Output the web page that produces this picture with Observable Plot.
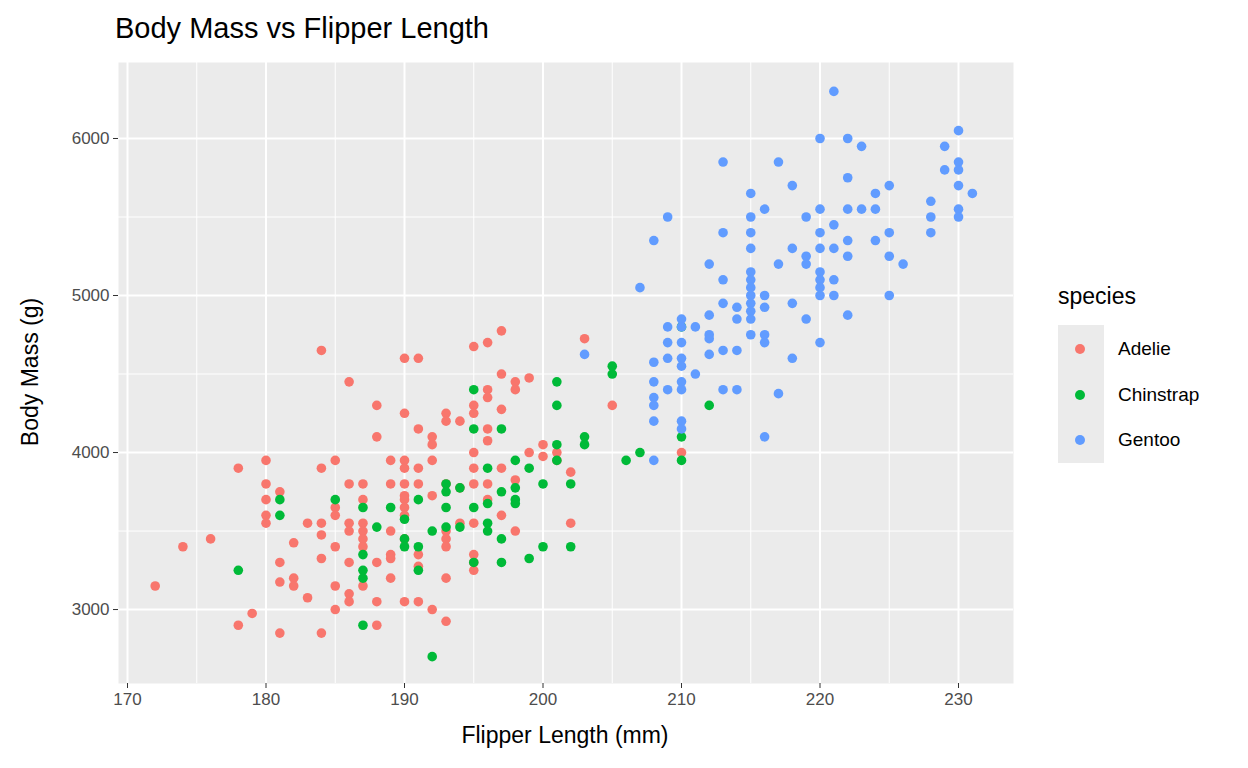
<!DOCTYPE html>
<html><head><meta charset="utf-8">
<script src="https://cdn.jsdelivr.net/npm/d3@7"></script>
<script src="https://cdn.jsdelivr.net/npm/@observablehq/plot@0.6"></script>
<style>
body{margin:0;background:#fff;font-family:"Liberation Sans",Arial,sans-serif;}
#wrap{position:relative;width:1248px;height:768px;}
#chart{position:absolute;left:0;top:0;}
.t{position:absolute;white-space:nowrap;color:#000;}
</style></head><body>
<div id="wrap">
<div id="chart"></div>
<div class="t" style="left:115px;top:12px;font-size:29px;">Body Mass vs Flipper Length</div>
<div class="t" style="left:565px;top:722px;font-size:23px;transform:translateX(-50%)">Flipper Length (mm)</div>
<div class="t" style="left:30px;top:372px;font-size:23px;transform:translate(-50%,-50%) rotate(-90deg)">Body Mass (g)</div>
<div id="legend"></div>
</div>
<script>
const species = ["Adelie", "Chinstrap", "Gentoo"];
const colors = ["#F8766D", "#00BA38", "#619CFF"];
const xTicks = [170, 180, 190, 200, 210, 220, 230];
const yTicks = [3000, 4000, 5000, 6000];

const adelie = [[172,3150],[174,3400],[176,3450],[178,3900],[178,2900],[179,2975],[180,3950],[180,3800],[180,3700],[180,3600],[180,3550],[181,3750],[181,3300],[181,3175],[181,2850],[182,3200],[182,3150],[182,3425],[183,3550],[183,3075],[184,4650],[184,3900],[184,3550],[184,3475],[184,3325],[184,2850],[185,3950],[185,3650],[185,3600],[185,3400],[185,3150],[185,3000],[186,4450],[186,3800],[186,3550],[186,3500],[186,3300],[186,3100],[186,3050],[187,3800],[187,3700],[187,3550],[187,3500],[187,3450],[187,3400],[187,3150],[188,4300],[188,4100],[188,3300],[188,3050],[188,2900],[189,3950],[189,3800],[189,3500],[189,3350],[189,3325],[189,3200],[190,4600],[190,4250],[190,3950],[190,3900],[190,3800],[190,3725],[190,3700],[190,3650],[190,3600],[190,3450],[190,3050],[191,4600],[191,4150],[191,3900],[191,3800],[191,3350],[191,3275],[191,3050],[192,4100],[192,4050],[192,3950],[192,3725],[192,3000],[193,4250],[193,4200],[193,3800],[193,3500],[193,3450],[193,3400],[193,3200],[193,2925],[194,4200],[194,3775],[194,3550],[195,4675],[195,4300],[195,4250],[195,4000],[195,3900],[195,3800],[195,3550],[195,3350],[195,3300],[195,3250],[196,4700],[196,4400],[196,4350],[196,4150],[196,4075],[196,3800],[196,3700],[197,4775],[197,4500],[197,4275],[197,3900],[197,3600],[198,4450],[198,4400],[198,3825],[198,3500],[199,4475],[199,4000],[200,4050],[200,3975],[201,4000],[201,3950],[202,3875],[202,3550],[203,4725],[205,4300],[210,4000]];
const chinstrap = [[178,3250],[181,3700],[181,3600],[185,3700],[187,3650],[187,3350],[187,3250],[187,3200],[187,2900],[188,3525],[189,3650],[190,3575],[190,3450],[190,3400],[191,3700],[191,3400],[191,3250],[192,3500],[192,2700],[193,3800],[193,3750],[193,3650],[193,3525],[194,3775],[194,3525],[195,4400],[195,4150],[195,3650],[195,3300],[196,3900],[196,3675],[196,3550],[196,3500],[197,4150],[197,3750],[197,3450],[197,3300],[198,3950],[198,3775],[198,3700],[198,3675],[199,3900],[199,3325],[200,3800],[200,3400],[201,4450],[201,4300],[201,4050],[201,3950],[202,3800],[202,3400],[203,4100],[203,4050],[205,4550],[205,4500],[206,3950],[207,4000],[210,4800],[210,4100],[210,3950],[212,4300]];
const gentoo = [[203,4625],[207,5050],[208,5350],[208,4575],[208,4450],[208,4350],[208,4300],[208,4200],[208,3950],[209,5500],[209,4800],[209,4700],[209,4600],[209,4400],[210,4850],[210,4800],[210,4700],[210,4600],[210,4550],[210,4450],[210,4400],[210,4200],[210,4150],[211,4500],[211,4800],[212,5200],[212,4875],[212,4750],[212,4725],[212,4625],[213,5850],[213,5400],[213,5100],[213,4950],[213,4650],[213,4400],[214,4925],[214,4850],[214,4650],[214,4400],[215,5650],[215,5500],[215,5400],[215,5300],[215,5150],[215,5100],[215,5050],[215,5000],[215,4950],[215,4900],[215,4850],[215,4750],[216,5550],[216,5000],[216,4925],[216,4750],[216,4700],[216,4100],[217,5850],[217,5200],[217,4375],[218,5700],[218,5300],[218,4950],[218,4600],[219,5500],[219,5250],[219,5200],[219,4850],[220,6000],[220,5550],[220,5400],[220,5300],[220,5150],[220,5100],[220,5050],[220,5000],[220,4700],[221,6300],[221,5450],[221,5300],[221,5100],[221,5000],[222,6000],[222,5750],[222,5550],[222,5350],[222,5250],[222,4875],[223,5950],[223,5550],[224,5650],[224,5550],[224,5350],[225,5700],[225,5400],[225,5250],[225,5000],[226,5200],[228,5600],[228,5500],[228,5400],[229,5950],[229,5800],[230,6050],[230,5850],[230,5800],[230,5700],[230,5550],[230,5500],[231,5650]];

const data = [];
[adelie, chinstrap, gentoo].forEach((arr, i) =>
  arr.forEach(([f, m]) => data.push({species: species[i], flipper: f, mass: m})));

const xMinor = [175, 185, 195, 205, 215, 225];
const yMinor = [2500, 3500, 4500, 5500];

const chart = Plot.plot({
  width: 1248, height: 768,
  marginLeft: 118, marginRight: 235, marginTop: 62, marginBottom: 85,
  style: {fontFamily: "Liberation Sans, Arial, sans-serif", fontSize: "17px", color: "#4D4D4D", background: "transparent"},
  x: {domain: [169.35, 233.97], label: null},
  y: {domain: [2529, 6484], label: null},
  color: {domain: species, range: colors},
  marks: [
    Plot.frame({fill: "#EBEBEB", stroke: null}),
    Plot.gridX(xMinor, {stroke: "#fff", strokeOpacity: 1, strokeWidth: 1}),
    Plot.gridY(yMinor, {stroke: "#fff", strokeOpacity: 1, strokeWidth: 1}),
    Plot.gridX(xTicks, {stroke: "#fff", strokeOpacity: 1, strokeWidth: 2}),
    Plot.gridY(yTicks, {stroke: "#fff", strokeOpacity: 1, strokeWidth: 2}),
    Plot.axisX(xTicks, {tickSize: 5, tickPadding: 4, stroke: "#333", fill: "#4D4D4D", label: null}),
    Plot.axisY(yTicks, {tickSize: 5, tickPadding: 4, stroke: "#333", fill: "#4D4D4D", label: null, tickFormat: d3.format("d")}),
    Plot.dot(data, {x: "flipper", y: "mass", fill: "species", r: 4.8, stroke: null})
  ]
});
d3.select("#chart").append(() => chart);

// legend
const lg = d3.select("#legend");
lg.append("div").attr("class", "t").style("left", "1058px").style("top", "283px").style("font-size", "23px").text("species");
lg.append("div").style("position", "absolute").style("left", "1058px").style("top", "325px")
  .style("width", "46px").style("height", "138px").style("background", "#EBEBEB");
species.forEach((s, i) => {
  const cy = 349 + i * 45.5;
  lg.append("div").style("position", "absolute").style("left", (1080 - 5) + "px").style("top", (cy - 5) + "px")
    .style("width", "10px").style("height", "10px").style("border-radius", "50%").style("background", colors[i]);
  lg.append("div").attr("class", "t").style("left", "1118px").style("top", (cy - 11) + "px").style("font-size", "19px").text(s);
});
</script>
</body></html>
